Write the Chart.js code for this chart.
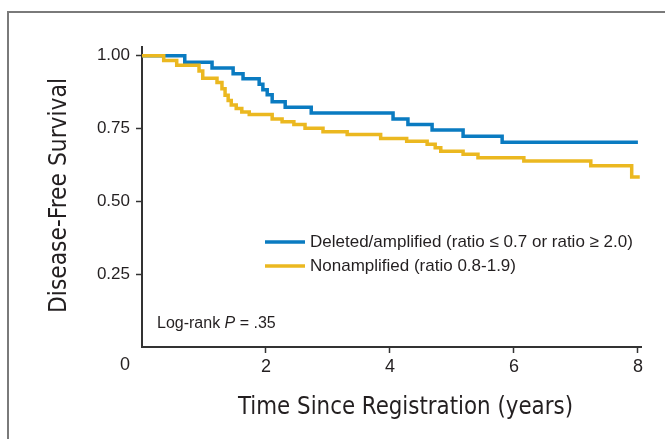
<!DOCTYPE html>
<html>
<head>
<meta charset="utf-8">
<script src="https://cdn.jsdelivr.net/npm/chart.js@4"></script>
<style>
html,body{margin:0;padding:0;background:#fff;}
canvas{display:block;}
</style>
</head>
<body>
<canvas id="c" width="665" height="439"></canvas>
<script>
// ---- Data ----
const seriesNames = ['Deleted/amplified (ratio \u2264 0.7 or ratio \u2265 2.0)', 'Nonamplified (ratio 0.8-1.9)'];
const blueTimes = [0, 0.69, 1.13, 1.47, 1.63, 1.89, 1.95, 2.02, 2.10, 2.31, 2.73, 4.05, 4.29, 4.68, 5.18, 5.81, 8.0];
const blueSurv  = [1.0, 0.978, 0.958, 0.938, 0.921, 0.902, 0.883, 0.866, 0.842, 0.823, 0.803, 0.783, 0.764, 0.745, 0.724, 0.703, 0.703];
const yellowTimes = [0, 0.35, 0.56, 0.92, 0.98, 1.21, 1.29, 1.34, 1.39, 1.44, 1.52, 1.61, 1.73, 2.10, 2.26, 2.45, 2.63, 2.92, 3.31, 3.85, 4.27, 4.60, 4.73, 4.82, 5.18, 5.42, 6.16, 7.24, 7.90, 8.03];
const yellowSurv  = [1.0, 0.984, 0.967, 0.948, 0.923, 0.908, 0.887, 0.864, 0.846, 0.831, 0.819, 0.807, 0.798, 0.783, 0.773, 0.764, 0.751, 0.739, 0.730, 0.716, 0.706, 0.696, 0.684, 0.672, 0.662, 0.650, 0.639, 0.622, 0.584, 0.584];
const xTicks = [2, 4, 6, 8];
const yTicks = [0.25, 0.50, 0.75, 1.00];
const xTitle = 'Time Since Registration (years)';
const yTitle = 'Disease-Free Survival';

const BLUE = '#0a7bc1';
const YELLOW = '#ebb820';
const INK = '#231f20';
const SANS = "'Liberation Sans', Arial, Helvetica, sans-serif";
const NARROW = "'Liberation Sans Narrow', 'DejaVu Sans Condensed', 'Liberation Sans', sans-serif";

function pts(ts, ss){ return ts.map((t,i)=>({x:t, y:ss[i]})); }

function fitText(ctx, text, x, y, width, rot){
  const w = ctx.measureText(text).width;
  ctx.save();
  ctx.translate(x, y);
  if (rot) ctx.rotate(rot);
  ctx.scale(width / w, 1);
  ctx.fillText(text, 0, 0);
  ctx.restore();
}

const decor = {
  id: 'decor',
  beforeDraw(chart){
    const ctx = chart.ctx;
    ctx.save();
    ctx.fillStyle = '#fff';
    ctx.fillRect(0,0,chart.width,chart.height);
    ctx.strokeStyle = '#7a7a7a';
    ctx.lineWidth = 2;
    ctx.beginPath();
    ctx.moveTo(8, chart.height + 2);
    ctx.lineTo(8, 12);
    ctx.lineTo(chart.width + 2, 12);
    ctx.stroke();
    ctx.restore();
  },
  afterDraw(chart){
    const ctx = chart.ctx;
    const xs = chart.scales.x;
    ctx.save();
    ctx.fillStyle = INK;
    // "0" at the origin corner
    ctx.font = "18px " + SANS;
    ctx.textAlign = 'center';
    ctx.textBaseline = 'middle';
    ctx.fillText('0', xs.getPixelForValue(0) - 17, 365);
    // axis titles
    ctx.font = "25px " + NARROW;
    ctx.textAlign = 'center';
    ctx.textBaseline = 'alphabetic';
    fitText(ctx, xTitle, 405.5, 414, 335, 0);
    fitText(ctx, yTitle, 66, 195.5, 235, -Math.PI/2);
    // legend
    const rows = [[BLUE, seriesNames[0], 242], [YELLOW, seriesNames[1], 266]];
    ctx.font = "17px " + SANS;
    ctx.textAlign = 'left';
    ctx.textBaseline = 'middle';
    rows.forEach(([col, label, y]) => {
      ctx.strokeStyle = col;
      ctx.lineWidth = 3.5;
      ctx.beginPath();
      ctx.moveTo(265, y);
      ctx.lineTo(305, y);
      ctx.stroke();
      ctx.fillStyle = INK;
      ctx.fillText(label, 310, y);
    });
    // log-rank annotation
    let x = 157;
    const y = 324;
    ctx.font = "16px " + SANS;
    ctx.fillText('Log-rank ', x, y);
    x += ctx.measureText('Log-rank ').width;
    ctx.font = "italic 16px " + SANS;
    ctx.fillText('P', x, y);
    x += ctx.measureText('P').width;
    ctx.font = "16px " + SANS;
    ctx.fillText(' = .35', x, y);
    ctx.restore();
  }
};

new Chart(document.getElementById('c'), {
  type: 'line',
  data: {
    datasets: [
      { label: seriesNames[1], data: pts(yellowTimes, yellowSurv), borderColor: YELLOW, borderWidth: 3.5, stepped: 'before', pointRadius: 0, fill: false, order: 1 },
      { label: seriesNames[0], data: pts(blueTimes, blueSurv), borderColor: BLUE, borderWidth: 3.5, stepped: 'before', pointRadius: 0, fill: false, order: 2 }
    ]
  },
  options: {
    responsive: false,
    animation: false,
    events: [],
    layout: { padding: { top: 47, right: 24, left: 0, bottom: 0 } },
    plugins: { legend: { display: false }, tooltip: { enabled: false }, title: { display: false } },
    scales: {
      x: {
        type: 'linear', min: 0, max: 8.05,
        afterBuildTicks(s){ s.ticks = xTicks.map(v => ({value: v})); },
        afterFit(s){ s.height = 92; },
        grid: { drawOnChartArea: false, drawTicks: true, tickLength: 6, tickColor: '#333', tickWidth: 1.5 },
        border: { display: true, color: '#333', width: 2 },
        ticks: { color: INK, font: { family: SANS, size: 18 }, padding: 3, maxRotation: 0, autoSkip: false },
        title: { display: false }
      },
      y: {
        type: 'linear', min: 0, max: 1.03,
        afterBuildTicks(s){ s.ticks = yTicks.map(v => ({value: v})); },
        afterFit(s){ s.width = 142; },
        grid: { drawOnChartArea: false, drawTicks: true, tickLength: 6, tickColor: '#333', tickWidth: 1.5 },
        border: { display: true, color: '#333', width: 2 },
        ticks: { color: INK, font: { family: SANS, size: 17 }, padding: 6, autoSkip: false, callback: v => v.toFixed(2) },
        title: { display: false }
      }
    }
  },
  plugins: [decor]
});
</script>
</body>
</html>
